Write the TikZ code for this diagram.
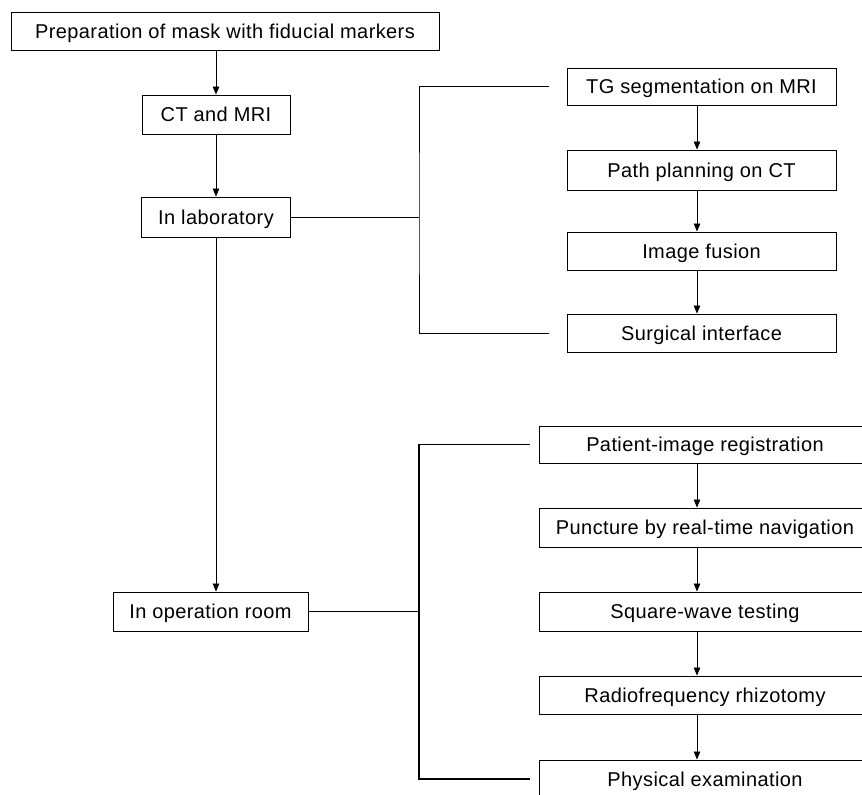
\documentclass[tikz,border=0pt]{standalone}
\usepackage{fontspec}
\setmainfont{Liberation Sans}[LetterSpace=2]
\usetikzlibrary{arrows.meta}

\begin{document}
\begin{tikzpicture}[x=1pt,y=-1pt,
	box/.style={draw,line width=0.9pt,inner sep=0pt,minimum height=38pt,
		text height=14.5pt,text depth=0pt,font=\fontsize{20}{22}\selectfont},
	arr/.style={line width=0.8pt,-{Triangle[width=6.5pt,length=8pt]}},
	br/.style={line width=0.9pt}]
	\useasboundingbox (0,0) rectangle (862,795);

	% left column
	\node[box,minimum width=428pt] (prep) at (225,31) {Preparation of mask with fiducial markers};
	\node[box,minimum width=148pt,minimum height=39pt] (ct) at (216,114.5) {CT and MRI};
	\node[box,minimum width=149pt,minimum height=40pt] (lab) at (216,217) {In laboratory};
	\node[box,minimum width=195pt,minimum height=39pt] (op) at (210.5,611.5) {In operation room};

	\draw[arr] (prep.south -| ct.center) -- (ct.north);
	\draw[arr] (ct.south) -- (lab.north);
	\draw[arr] (lab.south) -- (lab.south |- op.north);

	% laboratory steps
	\node[box,minimum width=269pt,minimum height=37pt] (tg) at (701.5,86.5) {TG segmentation on MRI};
	\node[box,minimum width=269pt,minimum height=40pt] (pp) at (701.5,170) {Path planning on CT};
	\node[box,minimum width=269pt] (fu) at (701.5,251) {Image fusion};
	\node[box,minimum width=269pt] (si) at (701.5,333) {Surgical interface};

	\foreach \a/\b in {tg/pp,pp/fu,fu/si}
		\draw[arr] ([xshift=-4.5pt]\a.south) -- ([xshift=-4.5pt]\b.north);

	\coordinate (labbr) at (419,217);
	\draw[br] (lab.east) -- (labbr);
	\draw[br] ([xshift=-18pt]tg.west) -| (labbr) |- ([xshift=-18pt]si.west);

	% operation room steps
	\node[box,minimum width=332pt,minimum height=37pt] (pr) at (705,444.5) {Patient-image registration};
	\node[box,minimum width=332pt,minimum height=39pt] (pu) at (705,527.5) {Puncture by real-time navigation};
	\node[box,minimum width=332pt,minimum height=39pt] (sq) at (705,611.5) {Square-wave testing};
	\node[box,minimum width=332pt] (rf) at (705,695) {Radiofrequency rhizotomy};
	\node[box,minimum width=332pt] (pe) at (705,779) {Physical examination};

	\foreach \a/\b in {pr/pu,pu/sq,sq/rf,rf/pe}
		\draw[arr] ([xshift=-8pt]\a.south) -- ([xshift=-8pt]\b.north);

	\coordinate (opbr) at (419,611.5);
	\draw[br] (op.east) -- (opbr);
	\draw[br,line width=1.3pt] ([xshift=-9pt]pr.west) -| (opbr) |- ([xshift=-9pt]pe.west);
\end{tikzpicture}
\end{document}
